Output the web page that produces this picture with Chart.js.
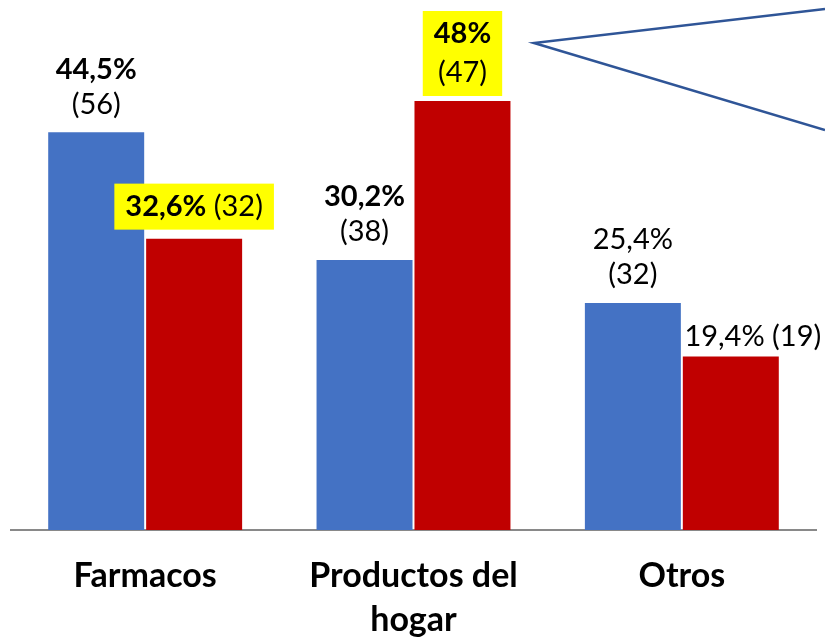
<!DOCTYPE html>
<html>
<head>
<meta charset="utf-8">
<script src="https://cdn.jsdelivr.net/npm/chart.js@4"></script>
<style>
  html, body { margin: 0; padding: 0; background: #fff; }
  #wrap { width: 825px; height: 642px; }
</style>
</head>
<body>
<div id="wrap"><canvas id="chart"></canvas></div>
<script>
const categories = [['Farmacos'], ['Productos del', 'hogar'], ['Otros']];
const pctBlue = [44.5, 30.2, 25.4];
const countBlue = [56, 38, 32];
const pctRed = [32.6, 48, 19.4];
const countRed = [32, 47, 19];

const FONT = 'Lato, "Open Sans", sans-serif';

// how each label is laid out: two lines or one, bold %, yellow box, shift
const labelStyle = [
  [ {lines: 2, bold: true}, {lines: 1, bold: true, mark: true} ],
  [ {lines: 2, bold: true}, {lines: 2, bold: true, mark: true} ],
  [ {lines: 2, bold: false}, {lines: 1, bold: false, dx: 22} ]
]

function fmt(v) { return String(v).replace('.', ',') + '%' }

const barLabels = {
  id: 'barLabels',
  afterDatasetsDraw(chart) {
    const ctx = chart.ctx
    const counts = [countBlue, countRed]
    ctx.save()
    ctx.textBaseline = 'middle'
    chart.data.datasets.forEach((ds, di) => {
      chart.getDatasetMeta(di).data.forEach((bar, i) => {
        const st = labelStyle[i][di]
        const pct = fmt(ds.data[i])
        const cnt = '(' + counts[di][i] + ')'
        const bFont = (st.bold ? 'bold ' : '') + '29px ' + FONT
        const nFont = '29px ' + FONT
        const cx = bar.x + (st.dx || 0)
        let rows
        if (st.lines == 2) {
          rows = [[{t: pct, f: bFont}], [{t: cnt, f: nFont}]]
        } else {
          rows = [[{t: pct, f: bFont}, {t: ' ' + cnt, f: nFont}]]
        }
        const gap = st.lines == 2 ? 28 : (st.mark ? 32 : 20)
        const lh = st.mark ? 39 : 35
        const ys = rows.map((r, k) => bar.y - gap - (rows.length - 1 - k) * lh)
        const widths = rows.map(r => r.reduce((s, seg) => { ctx.font = seg.f; return s + ctx.measureText(seg.t).width }, 0))
        if (st.mark) {
          const w = Math.max(...widths) + 22
          ctx.fillStyle = '#FFFF00'
          ctx.fillRect(cx - w / 2, ys[0] - 23, w, ys[ys.length - 1] - ys[0] + 46)
        }
        ctx.fillStyle = '#000'
        rows.forEach((r, k) => {
          let x = cx - widths[k] / 2
          ctx.textAlign = 'left'
          r.forEach(seg => {
            ctx.font = seg.f
            ctx.fillText(seg.t, x, ys[k])
            x += ctx.measureText(seg.t).width
          })
        })
      })
    })
    // callout pointer
    ctx.strokeStyle = '#2F5597'
    ctx.lineWidth = 2.5
    ctx.beginPath()
    ctx.moveTo(825, 9)
    ctx.lineTo(534, 43)
    ctx.lineTo(825, 130)
    ctx.stroke()
    ctx.restore()
  }
}

new Chart(document.getElementById('chart'), {
  type: 'bar',
  data: {
    labels: categories,
    datasets: [
      {data: pctBlue, backgroundColor: '#4472C4', barPercentage: 0.98, categoryPercentage: 0.73},
      {data: pctRed, backgroundColor: '#C00000', barPercentage: 0.98, categoryPercentage: 0.73}
    ]
  },
  options: {
    responsive: true,
    maintainAspectRatio: false,
    animation: false,
    layout: { padding: {left: 11, right: 9, top: 0, bottom: 0} },
    plugins: { legend: {display: false}, tooltip: {enabled: false} },
    scales: {
      x: {
        grid: {display: false, drawTicks: false},
        border: {display: true, color: '#898989', width: 2},
        ticks: {
          color: '#000',
          padding: 24,
          font: {family: FONT, size: 34, weight: 'bold', lineHeight: 1.3}
        },
        afterFit(scale) { scale.height = 112 }
      },
      y: {
        display: false,
        min: 0,
        max: 59.3
      }
    }
  },
  plugins: [barLabels]
});
</script>
</body>
</html>
